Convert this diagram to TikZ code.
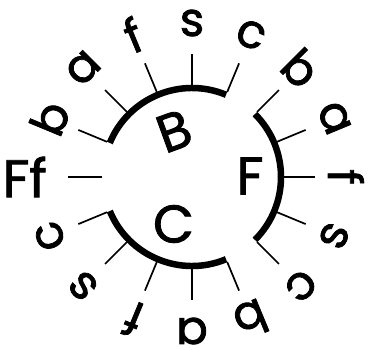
\documentclass[tikz,border=0pt]{standalone}
\usepackage{fontspec}
\setmainfont{Poppins}[RawFeature={embolden=1.6}]
\usetikzlibrary{calc}
\tikzset{
  arcline/.style={line width=6.5pt, line cap=butt},
  tickline/.style={line width=1.7pt},
  leaf/.style={font=\fontsize{47}{47}\selectfont, inner sep=0pt},
  clade/.style={font=\fontsize{53}{53}\selectfont, inner sep=0pt},
}
\begin{document}
\begin{tikzpicture}
\useasboundingbox (0,0) rectangle (374pt,349pt);
\coordinate (O) at (192pt,172pt);

% --- arcs of the three groups
\draw[arcline] ([shift={(67.5:89pt)}]O) arc[start angle=67.5, end angle=157.5, radius=89pt];
\draw[arcline] ([shift={(-45:89pt)}]O) arc[start angle=-45, end angle=45, radius=89pt];
\draw[arcline] ([shift={(202.5:89pt)}]O) arc[start angle=202.5, end angle=292.5, radius=89pt];

% --- group labels
\node[clade, rotate=20] (lB) at ($(O)+(-18pt,46pt)$) {B};
\node[clade] (lF) at ($(O)+(58pt,1pt)$) {F};
\node[clade] (lC) at ($(O)+(-18.5pt,-47pt)$) {C};

% --- leaves of B
\foreach \a/\t [count=\i] in {157.5/b,135/a,112.5/f,90/s,67.5/c} {
  \draw[tickline] ([shift={(\a:92pt)}]O) -- ([shift={(\a:123pt)}]O);
  \node[leaf, rotate=\a-90] (B\i) at ([shift={(\a:154pt)}]O) {\t};
}
% --- leaves of F
\foreach \a/\t [count=\i] in {45/b,22.5/a,0/f,-22.5/s,-45/c} {
  \draw[tickline] ([shift={(\a:92pt)}]O) -- ([shift={(\a:123pt)}]O);
  \node[leaf, rotate=\a-90] (F\i) at ([shift={(\a:154pt)}]O) {\t};
}
% --- leaves of C
\foreach \a/\t [count=\i] in {202.5/c,225/s,247.5/f,270/a,292.5/b} {
  \draw[tickline] ([shift={(\a:92pt)}]O) -- ([shift={(\a:123pt)}]O);
  \node[leaf, rotate=\a-90] (C\i) at ([shift={(\a:154pt)}]O) {\t};
}

% --- the lone leaf
\coordinate (ff0) at ([shift={(180:90pt)}]O);
\coordinate (ff1) at ([shift={(180:124pt)}]O);
\draw[tickline] (ff0) -- (ff1);
\node[clade, anchor=east] (Ff) at ([shift={(180:145pt)}]O) {Ff};
\end{tikzpicture}
\end{document}
